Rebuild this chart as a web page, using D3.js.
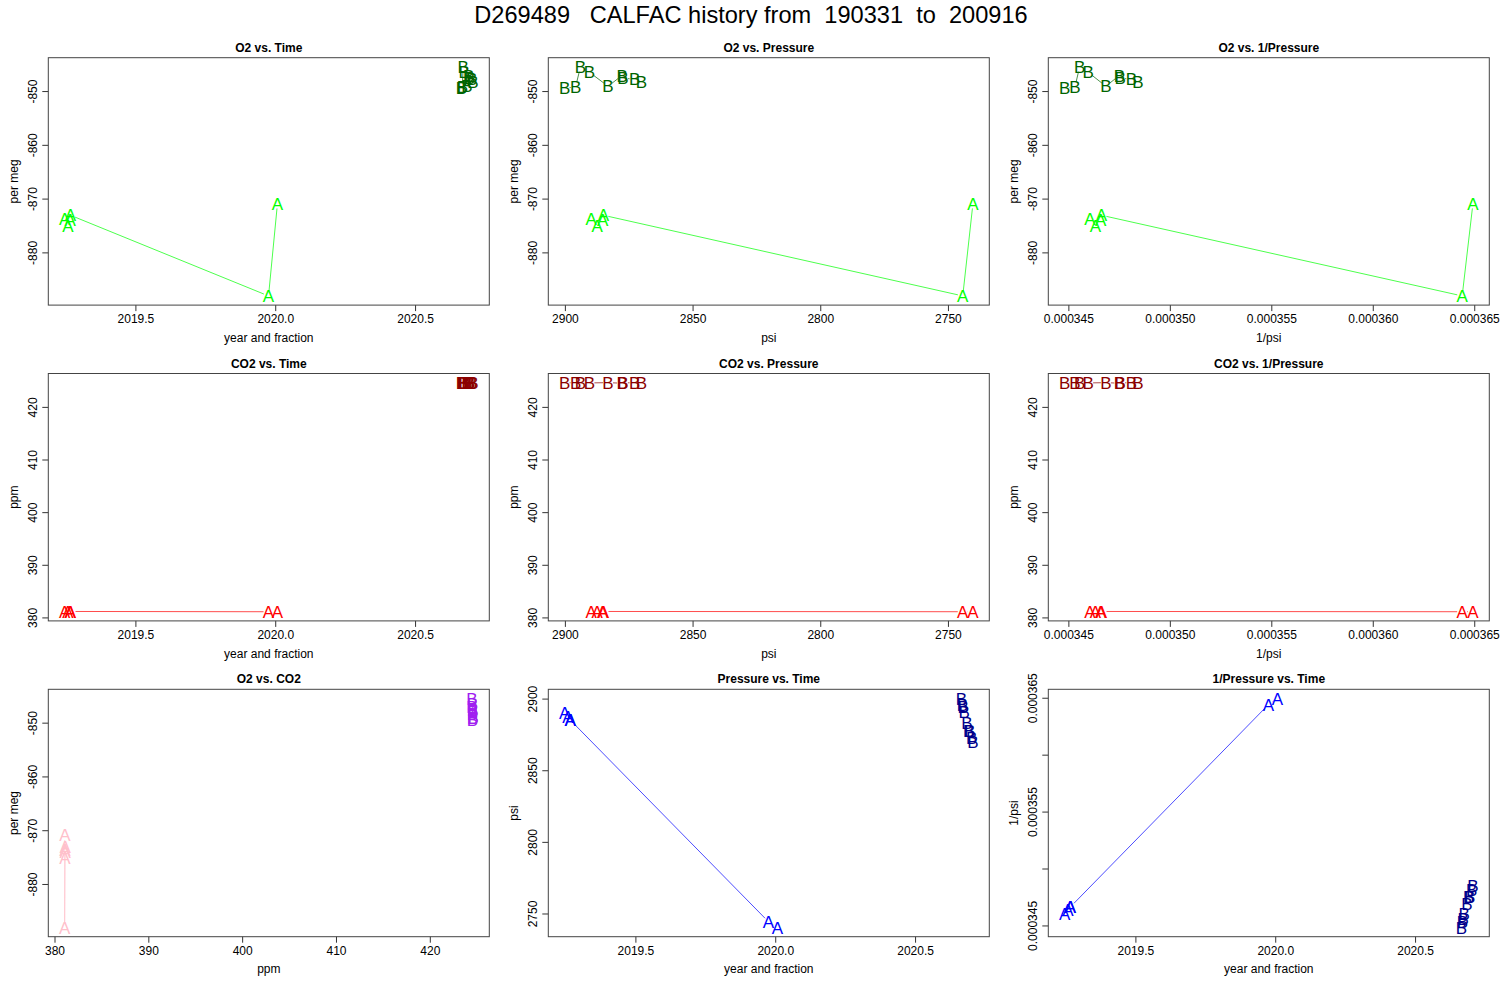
<!DOCTYPE html>
<html><head><meta charset="utf-8">
<script src="https://cdn.jsdelivr.net/npm/d3@7"></script>
<style>
body{margin:0;background:#fff}
text{font-family:"Liberation Sans",Arial,Helvetica,sans-serif;fill:#000}
</style>
</head><body>
<svg id="c" width="1500" height="1000"></svg>
<script>
// ---------------- data ----------------
const mainTitle = "D269489   CALFAC history from  190331  to  200916";
const groupLabels = ["A", "B"];

const timeA = [2019.247, 2019.259, 2019.267, 2019.268, 2019.976, 2020.008];
const psiA  = [2889.7, 2887.4, 2885.2, 2884.9, 2744.2, 2740.2];
const o2A   = [-873.7, -875.1, -874.0, -873.1, -888.1, -870.9];
const co2A  = [381.12, 381.10, 381.14, 381.13, 381.08, 381.10];

const timeB = [2020.666, 2020.669, 2020.672, 2020.676, 2020.685, 2020.692, 2020.695, 2020.702, 2020.707];
const psiB  = [2900.1, 2895.8, 2893.9, 2890.4, 2883.1, 2877.6, 2877.3, 2872.7, 2870.0];
const o2B   = [-849.5, -849.2, -845.5, -846.5, -849.1, -847.1, -847.6, -847.8, -848.3];
const co2B  = [424.55, 424.60, 424.50, 424.55, 424.60, 424.50, 424.55, 424.60, 424.55];

const invA = psiA.map(p => 1 / p);
const invB = psiB.map(p => 1 / p);

const timeTicks = [2019.5, 2020.0, 2020.5];
const timeTickLabels = ["2019.5", "2020.0", "2020.5"];
const o2Ticks = [-880, -870, -860, -850];
const o2TickLabels = ["-880", "-870", "-860", "-850"];
const psiTicks = [2750, 2800, 2850, 2900];
const psiTickLabels = ["2750", "2800", "2850", "2900"];
const invTicks = [0.000345, 0.000350, 0.000355, 0.000360, 0.000365];
const invTickLabels = ["0.000345", "0.000350", "0.000355", "0.000360", "0.000365"];
const invTickLabelsY = ["0.000345", "", "0.000355", "", "0.000365"];
const co2Ticks = [380, 390, 400, 410, 420];
const co2TickLabels = ["380", "390", "400", "410", "420"];

const o2Colors  = ["#00ff00", "#006400"];
const co2Colors = ["#ff0000", "#8b0000"];
const mixColors = ["#ffc0cb", "#a020f0"];
const psiColors = ["#0000ff", "#00008b"];

const vars = {
  time: {A: timeA, B: timeB, ticks: timeTicks, labels: timeTickLabels, title: "year and fraction"},
  o2:   {A: o2A,   B: o2B,   ticks: o2Ticks,   labels: o2TickLabels,   title: "per meg"},
  co2:  {A: co2A,  B: co2B,  ticks: co2Ticks,  labels: co2TickLabels,  title: "ppm"},
  psi:  {A: psiA,  B: psiB,  ticks: psiTicks,  labels: psiTickLabels,  title: "psi"},
  inv:  {A: invA,  B: invB,  ticks: invTicks,  labels: invTickLabels,  title: "1/psi"}
};

const panels = [
  {title: "O2 vs. Time",          x: "time", y: "o2",  colors: o2Colors},
  {title: "O2 vs. Pressure",      x: "psi",  y: "o2",  colors: o2Colors, xrev: true},
  {title: "O2 vs. 1/Pressure",    x: "inv",  y: "o2",  colors: o2Colors},
  {title: "CO2 vs. Time",         x: "time", y: "co2", colors: co2Colors},
  {title: "CO2 vs. Pressure",     x: "psi",  y: "co2", colors: co2Colors, xrev: true},
  {title: "CO2 vs. 1/Pressure",   x: "inv",  y: "co2", colors: co2Colors},
  {title: "O2 vs. CO2",           x: "co2",  y: "o2",  colors: mixColors},
  {title: "Pressure vs. Time",    x: "time", y: "psi", colors: psiColors},
  {title: "1/Pressure vs. Time",  x: "time", y: "inv", colors: psiColors, yLabels: invTickLabelsY}
];

// ---------------- layout ----------------
const svg = d3.select("#c");
const PW = 441, PH = 247.4;
const left0 = 48.3, top0 = 57.7, colStep = 500, rowStep = 315.8;

svg.append("text").attr("x", 751).attr("y", 22.5)
  .attr("text-anchor", "middle").style("font-size", "23.6px").style("white-space", "pre")
  .text(mainTitle);

function extent4(a) {
  const lo = d3.min(a), hi = d3.max(a), p = (hi - lo) * 0.04;
  return [lo - p, hi + p];
}

panels.forEach((pn, i) => {
  const r = Math.floor(i / 3), c = i % 3;
  const L = left0 + c * colStep, T = top0 + r * rowStep, R = L + PW, B = T + PH;
  const vx = vars[pn.x], vy = vars[pn.y];
  const ex = extent4(vx.A.concat(vx.B)), ey = extent4(vy.A.concat(vy.B));
  const x = d3.scaleLinear().domain(pn.xrev ? [ex[1], ex[0]] : ex).range([L, R]);
  const y = d3.scaleLinear().domain(ey).range([B, T]);
  const g = svg.append("g");

  // title
  g.append("text").attr("x", (L + R) / 2).attr("y", T - 6)
    .attr("text-anchor", "middle").style("font-size", "12px").style("font-weight", "bold")
    .text(pn.title);

  // x axis
  const xa = g.append("g").attr("transform", `translate(0,${B})`)
    .call(d3.axisBottom(x).tickValues(vx.ticks).tickSize(6).tickPadding(4)
      .tickFormat((d, k) => vx.labels[k]));
  xa.select(".domain").remove();
  xa.selectAll("line").attr("stroke", "#333");
  xa.selectAll("text").style("font-size", "12px").attr("y", 0).attr("dy", 0)
    .attr("transform", "translate(0,18.3)");

  // y axis
  const yLabels = pn.yLabels || vy.labels;
  const ya = g.append("g").attr("transform", `translate(${L},0)`)
    .call(d3.axisLeft(y).tickValues(vy.ticks).tickSize(6)
      .tickFormat((d, k) => yLabels[k]));
  ya.select(".domain").remove();
  ya.selectAll("line").attr("stroke", "#333");
  ya.selectAll("text").style("font-size", "12px")
    .attr("x", null).attr("dy", null).attr("text-anchor", "middle")
    .attr("transform", "translate(-11,0) rotate(-90)");

  // axis titles
  g.append("text").attr("x", (L + R) / 2).attr("y", B + 36.7)
    .attr("text-anchor", "middle").style("font-size", "12px").text(vx.title);
  g.append("text").attr("transform", `translate(${L - 30.5},${(T + B) / 2}) rotate(-90)`)
    .attr("text-anchor", "middle").style("font-size", "12px").text(vy.title);

  // box
  g.append("rect").attr("x", L).attr("y", T).attr("width", PW).attr("height", PH)
    .attr("fill", "none").attr("stroke", "#444").attr("stroke-width", 1);

  // data: lines (with gaps like type="b") then letters
  groupLabels.forEach((lab, gi) => {
    const xs = vx[lab], ys = vy[lab], col = pn.colors[gi];
    const pts = xs.map((v, k) => [x(v), y(ys[k])]);
    const gap = 5;
    for (let k = 1; k < pts.length; k++) {
      const [x1, y1] = pts[k - 1], [x2, y2] = pts[k];
      const dx = x2 - x1, dy = y2 - y1, len = Math.hypot(dx, dy);
      if (len <= 2 * gap) continue;
      const ux = dx / len, uy = dy / len;
      g.append("line")
        .attr("x1", x1 + ux * gap).attr("y1", y1 + uy * gap)
        .attr("x2", x2 - ux * gap).attr("y2", y2 - uy * gap)
        .attr("stroke", col).attr("stroke-width", 1).attr("stroke-opacity", 0.7);
    }
    g.selectAll(null).data(pts).enter().append("text")
      .attr("x", d => d[0]).attr("y", d => d[1] + 6.1)
      .attr("text-anchor", "middle").style("font-size", "17px").style("fill", col)
      .text(lab);
  });
});
</script>
</body></html>
